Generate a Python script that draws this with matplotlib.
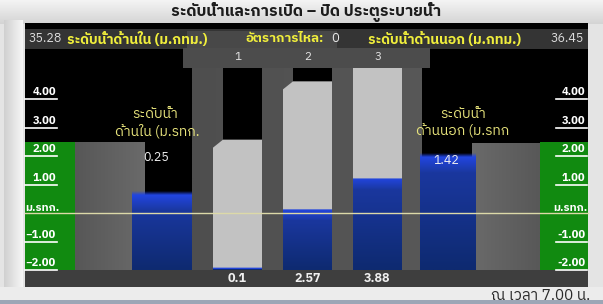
import numpy as np
import matplotlib
matplotlib.use("Agg")
import matplotlib.pyplot as plt
from matplotlib.patches import Rectangle, Polygon
from matplotlib.colors import to_rgba
from matplotlib import font_manager as fm
from matplotlib.ft2font import FT2Font

# ---- data ----
inner_level = 0.25          # ระดับน้ำด้านใน (ม.รทก.)
outer_level = 1.42          # ระดับน้ำด้านนอก (ม.รทก.)
inner_msl = "35.28"
outer_msl = "36.45"
flow_rate = "0"
gate_names = ["1", "2", "3"]
gate_open = [0.1, 2.57, 3.88]
gauge_ticks = [4, 3, 2, 1, 0, -1, -2]
title = "ระดับน้ำและการเปิด – ปิด ประตูระบายน้ำ"
time_text = "ณ เวลา 7.00 น."

# ---- pick a font that has Thai glyphs ----
def has_thai(path):
    try:
        return 0x0E23 in FT2Font(path).get_charmap()
    except Exception:
        return False

cands = []
for fe in fm.fontManager.ttflist:
    if has_thai(fe.fname):
        cands.append(fe.name)
pref = [c for c in cands if "Thai" in c and "Looped" not in c] + cands
thai = pref[0] if pref else "DejaVu Sans"
plt.rcParams["font.family"] = [thai, "DejaVu Sans"]

# ---- layout (pixel positions -> gauge metres) ----
ZERO_PX, PX_PER_M = 213, 28.5
W, H = 603, 304
def Y(px):
    return (ZERO_PX - px) / PX_PER_M

FLOOR = Y(270)               # channel floor
GATE_K = 23.6 / PX_PER_M     # gate travel scale
GATE_H = 128 / PX_PER_M
def show_level(v):           # display scale used for basin water
    return 0.345 + 1.14 * v

fig = plt.figure(figsize=(6.03, 3.04), dpi=100)
fig.patch.set_facecolor("#e4e4e4")
ax = fig.add_axes([0, 0, 1, 1])
ax.set_axis_off()

def rect(x0, x1, py0, py1, color, z, **kw):
    p = Rectangle((x0, Y(py1)), x1 - x0, Y(py0) - Y(py1), facecolor=color,
                  edgecolor="none", zorder=z, **kw)
    ax.add_patch(p)
    return p

def vgrad(x0, x1, ytop, ybot, ctop, cbot, z, alpha=1.0):
    t = np.linspace(0, 1, 64)[:, None]
    a, b = np.array(to_rgba(ctop)), np.array(to_rgba(cbot))
    img = (a * (1 - t) + b * t)[:, None, :]
    img[..., 3] *= alpha
    ax.imshow(img, extent=(x0, x1, ybot, ytop), aspect="auto", zorder=z,
              interpolation="bilinear")

def hgrad(x0, x1, ytop, ybot, cl, cr, z):
    t = np.linspace(0, 1, 64)[None, :]
    a, b = np.array(to_rgba(cl)), np.array(to_rgba(cr))
    img = (a[None, None, :] * (1 - t[..., None]) + b[None, None, :] * t[..., None])
    ax.imshow(img, extent=(x0, x1, ybot, ytop), aspect="auto", zorder=z,
              interpolation="bilinear")

def water(x0, x1, top, z):
    vgrad(x0, x1, top + 0.14, top, (0.13, 0.27, 0.9, 0.0), "#2246e0", z)
    vgrad(x0, x1, top, top - 0.55, "#2246e0", "#1a379e", z)
    if top - 0.55 > FLOOR:
        vgrad(x0, x1, top - 0.55, FLOOR, "#1a379e", "#0e2a70", z)

# frame
vgrad(0, W, Y(0), Y(24), "#f4f4f4", "#d4d4d4", 0)
hgrad(4, 23, Y(20), Y(290), "#d0d0d0", "#f6f6f6", 0)
rect(0, W, 287, 300, "#ececec", 0)
rect(0, W, 300, 304, "#9ca6b6", 0)

# panel
panel = rect(25, 588, 23, 287, "#000000", 1)
rect(25, 588, 29, 49, "#343434", 2)
rect(187, 337, 31, 48, "#484848", 2)
rect(183, 430, 48, 68, "#4c4c4c", 6)

# gate structure, walls, gauge columns
hgrad(192, 422, Y(68), Y(287), "#4e4e4e", "#585858", 2)
hgrad(75, 145, Y(142), Y(287), "#575757", "#6a6a6a", 2)
hgrad(472, 540, Y(143), Y(287), "#6a6a6a", "#585858", 2)
rect(25, 75, 142, 270, "#118a10", 2)
rect(540, 588, 142, 270, "#118a10", 2)

# basin water
water(132, 192, show_level(inner_level), 3)
water(420, 476, show_level(outer_level), 3)

# gates
gate_x = [213, 283, 353]
gate_w = 49
top_water = max(show_level(inner_level), show_level(outer_level))
for gx, op, name in zip(gate_x, gate_open, gate_names):
    bot = FLOOR + op * GATE_K
    top = bot + GATE_H
    rect(gx + 10, gx + gate_w, 68, 270, "#000000", 3)
    wtop = min(bot, top_water)
    if wtop > FLOOR:
        vgrad(gx, gx + gate_w, wtop, wtop - 0.4, "#2246e0", "#1a379e", 3)
        vgrad(gx, gx + gate_w, wtop - 0.4, FLOOR, "#1a379e", "#0e2a70", 3)
    c = 8 / PX_PER_M
    ax.add_patch(Polygon([(gx, bot), (gx + gate_w, bot), (gx + gate_w, top),
                          (gx + 10, top), (gx, top - c)],
                         facecolor="#c2c2c2", edgecolor="none", zorder=4))
    ax.text(gx + gate_w / 2 + 0.5, Y(57), name, color="#e6e6e6", fontsize=8.5,
            ha="center", va="center", zorder=8)
    ax.text(gx + gate_w / 2, Y(278), f"{op:g}", color="#f0f0f0", fontsize=9,
            ha="center", va="center", fontweight="bold", zorder=8)

rect(25, 588, 270, 287, "#3e3e3e", 5)

# zero line
ax.plot([25, 588], [0, 0], color="#dcd9a8", lw=1, zorder=7)

# gauge ticks
for v in gauge_ticks:
    if v == 0:
        ax.text(25, Y(208), "ม.รทก.", color="white", fontsize=8,
                fontweight="bold", ha="left", va="center", zorder=8)
        ax.text(587, Y(208), "ม.รทก.", color="white", fontsize=8,
                fontweight="bold", ha="right", va="center", zorder=8)
        continue
    lab = f"{v:.2f}"
    tl = ax.text(56, v + 0.07, lab.replace("-", "\u2212"), color="white",
                 fontsize=8, fontweight="bold", ha="right", va="bottom", zorder=8)
    tl.set_clip_path(panel)
    ax.plot([25, 57], [v, v], color="white", lw=1.2, zorder=8)
    ax.text(585, v + 0.07, lab, color="white", fontsize=8, fontweight="bold",
            ha="right", va="bottom", zorder=8)
    ax.plot([556, 587], [v, v], color="white", lw=1.2, zorder=8)

# header texts
yel = "#f0ee3c"
ax.text(306, Y(12), title, color="#1c1c1c", fontsize=11.5,
        fontweight="bold", ha="center", va="center", zorder=8)
ax.text(29, Y(39), inner_msl, color="#dedede", fontsize=9, ha="left", va="center", zorder=8)
ax.text(67, Y(39), "ระดับน้ำด้านใน (ม.กทม.)", color=yel, fontsize=10,
        fontweight="bold", ha="left", va="center", zorder=8)
ax.text(246, Y(39), "อัตราการไหล:", color=yel, fontsize=9.5, fontweight="bold",
        ha="left", va="center", zorder=8)
ax.text(331, Y(39), flow_rate, color="#e8e8e8", fontsize=9.5, ha="left", va="center", zorder=8)
ax.text(368, Y(39), "ระดับน้ำด้านนอก (ม.กทม.)", color=yel, fontsize=10,
        fontweight="bold", ha="left", va="center", zorder=8)
ax.text(584, Y(39), outer_msl, color="#dedede", fontsize=9, ha="right", va="center", zorder=8)

# basin labels
lyel = "#e8e47c"
ax.text(155, Y(114), "ระดับน้ำ", color=lyel, fontsize=10, ha="center", va="center", zorder=8)
ax.text(157, Y(131), "ด้านใน (ม.รทก.", color=lyel, fontsize=10, ha="center", va="center", zorder=8)
ax.text(156, Y(157), f"{inner_level:.2f}", color="#f0f0f0", fontsize=9,
        ha="center", va="center", zorder=8)
ax.text(463, Y(114), "ระดับน้ำ", color=lyel, fontsize=10, ha="center", va="center", zorder=8)
ax.text(463, Y(131), "ด้านนอก (ม.รทก", color=lyel, fontsize=10, ha="center", va="center", zorder=8)
ax.text(446, Y(160), f"{outer_level:.2f}", color="#f0f0f0", fontsize=9,
        ha="center", va="center", zorder=8)

ax.text(590, Y(296), time_text, color="#2a2a2a", fontsize=11, ha="right",
        va="center", zorder=8)

ax.set_xlim(0, W)
ax.set_ylim(Y(H), Y(0))
fig.savefig("out.png", dpi=100, facecolor=fig.get_facecolor())
